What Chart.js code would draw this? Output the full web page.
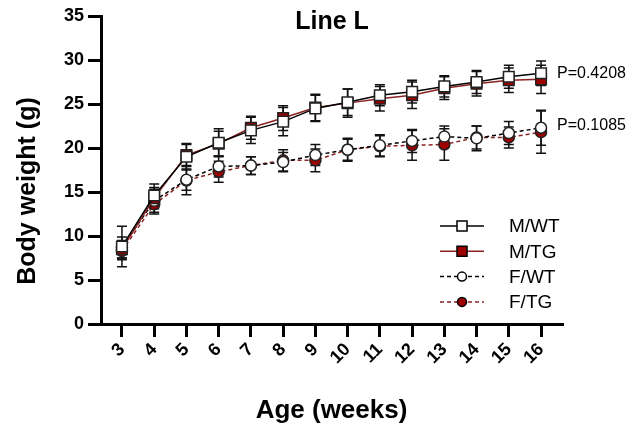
<!DOCTYPE html>
<html>
<head>
<meta charset="utf-8">
<script src="https://cdn.jsdelivr.net/npm/chart.js@4/dist/chart.umd.min.js"></script>
<style>
  html, body { margin: 0; padding: 0; background: #fff; }
  #wrap { width: 638px; height: 429px; }
</style>
</head>
<body>
<div id="wrap"><canvas id="weightChart"></canvas></div>
<script>
const weeks = [3, 4, 5, 6, 7, 8, 9, 10, 11, 12, 13, 14, 15, 16];
const yTicks = [0, 5, 10, 15, 20, 25, 30, 35];

// mean body weight (g)
const mWT = [8.8, 14.6, 19.0, 20.6, 22.0, 23.0, 24.5, 25.2, 26.0, 26.4, 27.0, 27.5, 28.1, 28.5];
const mTG = [8.5, 14.3, 19.2, 20.5, 22.3, 23.4, 24.6, 25.1, 25.6, 26.0, 26.8, 27.3, 27.7, 27.8];
const fWT = [8.7, 14.0, 16.4, 17.9, 18.0, 18.4, 19.2, 19.8, 20.3, 20.8, 21.3, 21.1, 21.7, 22.3];
const fTG = [8.3, 13.6, 16.3, 17.3, 18.0, 18.6, 18.6, 19.8, 20.2, 20.3, 20.4, 21.2, 21.2, 21.8];

// error bars (+/-)
const mWTerr = [2.3, 1.3, 1.5, 1.6, 1.5, 1.6, 1.5, 1.5, 1.2, 1.3, 1.2, 1.3, 1.3, 1.4];
const mTGerr = [1.0, 1.2, 1.2, 1.4, 1.3, 1.4, 1.5, 1.6, 1.4, 1.5, 1.3, 1.4, 1.4, 1.6];
const fWTerr = [1.2, 1.3, 1.2, 1.2, 1.0, 1.1, 1.2, 1.3, 1.2, 1.3, 1.2, 1.4, 1.3, 2.0];
const fTGerr = [1.0, 1.1, 1.6, 1.2, 1.0, 1.2, 1.3, 1.2, 1.2, 1.7, 1.8, 1.3, 1.2, 2.4];

const pLabels = ['P=0.4208', 'P=0.1085'];
const pLevels = [28.5, 22.6];

const FONT = "'Liberation Sans', Arial, sans-serif";
const RED = '#9e0000';
const RED_LINE = '#8b2222';

const toPts = (arr) => weeks.map((w, i) => ({ x: w, y: arr[i] }));

const datasets = [
    {
        label: 'M/WT', data: toPts(mWT), err: mWTerr,
        borderColor: '#000', borderWidth: 1.5,
        pointStyle: 'rect', pointRadius: 7.5, pointBackgroundColor: '#fff',
        pointBorderColor: '#222', pointBorderWidth: 1.5,
    },
    {
        label: 'M/TG', data: toPts(mTG), err: mTGerr,
        borderColor: RED_LINE, borderWidth: 1.5,
        pointStyle: 'rect', pointRadius: 7.5, pointBackgroundColor: RED,
        pointBorderColor: '#222', pointBorderWidth: 1.5,
    },
    {
        label: 'F/WT', data: toPts(fWT), err: fWTerr,
        borderColor: '#000', borderWidth: 1.5, borderDash: [4, 3],
        pointStyle: 'circle', pointRadius: 5.5, pointBackgroundColor: '#fff',
        pointBorderColor: '#222', pointBorderWidth: 1.5,
    },
    {
        label: 'F/TG', data: toPts(fTG), err: fTGerr,
        borderColor: RED_LINE, borderWidth: 1.5, borderDash: [4, 3],
        pointStyle: 'circle', pointRadius: 5.5, pointBackgroundColor: RED,
        pointBorderColor: '#222', pointBorderWidth: 1.5,
    },
];

// error bars, title, y title, p values and the legend
const extras = {
    id: 'extras',
    beforeDatasetsDraw(chart) {
        const { ctx, scales: { x, y } } = chart;
        ctx.save();
        ctx.strokeStyle = '#111';
        ctx.lineWidth = 1.5;
        chart.data.datasets.forEach((ds) => {
            ds.data.forEach((p, i) => {
                const px = x.getPixelForValue(p.x);
                const top = y.getPixelForValue(p.y + ds.err[i]);
                const bot = y.getPixelForValue(p.y - ds.err[i]);
                ctx.beginPath();
                ctx.moveTo(px, top); ctx.lineTo(px, bot);
                ctx.moveTo(px - 5, top); ctx.lineTo(px + 5, top);
                ctx.moveTo(px - 5, bot); ctx.lineTo(px + 5, bot);
                ctx.stroke();
            });
        });
        ctx.restore();
    },
    afterDraw(chart) {
        const { ctx, chartArea: ca, scales: { y } } = chart;
        ctx.save();
        ctx.fillStyle = '#000';

        // title
        ctx.font = 'bold 25px ' + FONT;
        ctx.textAlign = 'center';
        ctx.textBaseline = 'middle';
        ctx.fillText('Line L', 332, 22);

        // y title
        ctx.save();
        ctx.translate(28, 191);
        ctx.rotate(-Math.PI / 2);
        ctx.font = 'bold 25px ' + FONT;
        ctx.fillText('Body weight (g)', 0, 0);
        ctx.restore();

        // p values
        ctx.font = '16px ' + FONT;
        ctx.textAlign = 'left';
        pLabels.forEach((t, i) => {
            ctx.fillText(t, ca.right - 5, y.getPixelForValue(pLevels[i]));
        });

        // legend
        ctx.font = '19px ' + FONT;
        chart.data.datasets.forEach((ds, i) => {
            const ly = 226 + i * 25.3;
            ctx.save();
            ctx.strokeStyle = ds.borderColor;
            ctx.lineWidth = 1.5;
            ctx.setLineDash(ds.borderDash || []);
            ctx.beginPath();
            ctx.moveTo(440, ly); ctx.lineTo(484, ly);
            ctx.stroke();
            ctx.setLineDash([]);
            ctx.fillStyle = ds.pointBackgroundColor;
            ctx.strokeStyle = '#000';
            ctx.beginPath();
            if (ds.pointStyle === 'rect') ctx.rect(457, ly - 5, 10, 10);
            else ctx.arc(462, ly, 4.5, 0, Math.PI * 2);
            ctx.fill();
            ctx.stroke();
            ctx.restore();
            ctx.fillText(ds.label, 509, ly + 1);
        });
        ctx.restore();
    },
};

new Chart(document.querySelector('#weightChart'), {
    type: 'line',
    data: { datasets: datasets },
    plugins: [extras],
    options: {
        responsive: true,
        maintainAspectRatio: false,
        animation: false,
        layout: { padding: { top: 16, right: 76, bottom: 0, left: 0 } },
        plugins: {
            legend: { display: false },
            title: { display: false },
            tooltip: { enabled: false },
        },
        scales: {
            x: {
                type: 'linear',
                min: 2.35,
                max: 16.65,
                afterFit: (s) => { s.height = 105; },
                afterBuildTicks: (s) => { s.ticks = weeks.map((v) => ({ value: v })); },
                border: { display: true, color: '#000', width: 3 },
                grid: { drawOnChartArea: false, drawTicks: true, tickLength: 13, lineWidth: 3, color: '#000' },
                ticks: {
                    color: '#000', minRotation: 45, maxRotation: 45, padding: 2,
                    autoSkip: false,
                    font: { family: FONT, size: 18, weight: 'bold' },
                },
                title: {
                    display: true, text: 'Age (weeks)', color: '#000',
                    font: { family: FONT, size: 26, weight: 'bold' },
                    padding: { top: 0, bottom: 3 },
                },
            },
            y: {
                min: 0,
                max: 35,
                afterFit: (s) => { s.width = 101; },
                afterBuildTicks: (s) => { s.ticks = yTicks.map((v) => ({ value: v })); },
                border: { display: true, color: '#000', width: 3 },
                grid: { drawOnChartArea: false, drawTicks: true, tickLength: 13, lineWidth: 3, color: '#000' },
                ticks: {
                    color: '#000', padding: 4,
                    font: { family: FONT, size: 18, weight: 'bold' },
                },
            },
        },
    },
});
</script>
</body>
</html>
